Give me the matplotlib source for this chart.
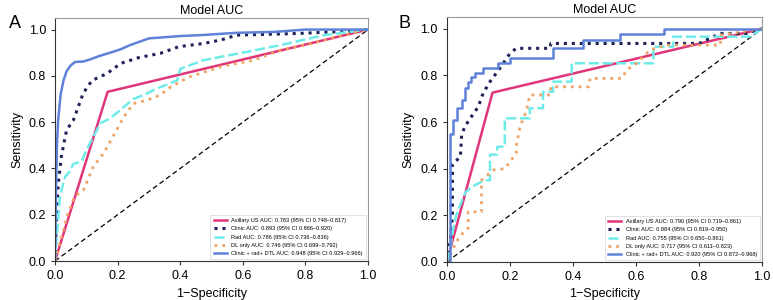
import numpy as np
import matplotlib
matplotlib.use('Agg')
import matplotlib.pyplot as plt

plt.rcParams['font.family'] = ['Liberation Sans', 'DejaVu Sans']

# ---- panel A (training) ----
a_us_x = [0, 0.168, 1.0]
a_us_y = [0, 0.731, 1.0]
a_clin_x = [0, 0.005, 0.01, 0.02, 0.03, 0.037, 0.059, 0.09, 0.118, 0.166, 0.21, 0.27, 0.336, 0.395,
            0.475, 0.53, 0.58, 0.775, 0.955, 1.0]
a_clin_y = [0, 0.2, 0.33, 0.45, 0.52, 0.566, 0.61, 0.725, 0.78, 0.81, 0.854, 0.88, 0.897, 0.926,
            0.94, 0.955, 0.976, 0.983, 0.994, 1.0]
a_rad_x = [0, 0.003, 0.007, 0.016, 0.032, 0.043, 0.059, 0.085, 0.10, 0.134, 0.144, 0.176, 0.208,
           0.25, 0.283, 0.326, 0.39, 0.40, 0.475, 0.614, 0.72, 0.86, 1.0]
a_rad_y = [0, 0.08, 0.134, 0.28, 0.364, 0.38, 0.42, 0.43, 0.48, 0.566, 0.595, 0.616, 0.652,
           0.70, 0.717, 0.746, 0.78, 0.83, 0.868, 0.904, 0.933, 0.976, 1.0]
a_dl_x = [0, 0.02, 0.04, 0.06, 0.08, 0.091, 0.123, 0.155, 0.19, 0.22, 0.25, 0.294, 0.336, 0.37,
          0.43, 0.53, 0.636, 0.72, 0.82, 0.92, 1.0]
a_dl_y = [0, 0.1, 0.2, 0.27, 0.3, 0.307, 0.41, 0.465, 0.55, 0.623, 0.68, 0.695, 0.717, 0.753,
          0.796, 0.84, 0.868, 0.911, 0.94, 0.976, 1.0]
a_dtl_x = [0, 0.003, 0.006, 0.01, 0.018, 0.027, 0.037, 0.05, 0.064, 0.09, 0.11, 0.14, 0.176,
           0.21, 0.24, 0.30, 0.40, 0.465, 0.58, 0.70, 0.80, 1.0]
a_dtl_y = [0, 0.3, 0.5, 0.61, 0.72, 0.78, 0.82, 0.845, 0.86, 0.862, 0.87, 0.885, 0.90,
           0.915, 0.933, 0.962, 0.972, 0.976, 0.986, 0.99, 1.0, 1.0]
a_labels = ['Axillary US AUC: 0.783 (95% CI 0.748\u20130.817)',
            'Clinic AUC: 0.893 (95% CI 0.866\u20130.920)',
            'Rad AUC: 0.786 (95% CI 0.736\u20130.836)',
            'DL only AUC: 0.746 (95% CI 0.699\u20130.792)',
            'Clinic + rad+ DTL AUC: 0.948 (95% CI 0.929\u20130.966)']

# ---- panel B (validation) ----
b_us_x = [0, 0.145, 1.0]
b_us_y = [0, 0.726, 1.0]
b_clin_x = [0, 0.012, 0.018, 0.018, 0.043, 0.047, 0.057, 0.078, 0.10, 0.115, 0.137, 0.168, 0.2,
            0.22, 0.327, 0.33, 0.80, 0.867, 0.95, 1.0]
b_clin_y = [0, 0.1, 0.2, 0.42, 0.45, 0.544, 0.58, 0.623, 0.666, 0.723, 0.773, 0.83, 0.894,
            0.916, 0.916, 0.937, 0.937, 0.98, 0.98, 1.0]
b_rad_x = [0, 0.01, 0.02, 0.03, 0.05, 0.06, 0.09, 0.12, 0.137, 0.137, 0.16, 0.16, 0.184, 0.184,
           0.263, 0.263, 0.305, 0.305, 0.337, 0.337, 0.396, 0.396, 0.655, 0.655, 0.718, 0.718,
           0.96, 1.0]
b_rad_y = [0, 0.05, 0.14, 0.2, 0.27, 0.3, 0.33, 0.35, 0.35, 0.46, 0.46, 0.494, 0.494, 0.616,
           0.616, 0.659, 0.659, 0.73, 0.73, 0.773, 0.773, 0.852, 0.852, 0.923, 0.923, 0.966,
           0.966, 1.0]
b_dl_x = [0, 0.015, 0.041, 0.068, 0.068, 0.11, 0.11, 0.147, 0.184, 0.22, 0.22, 0.232, 0.253,
          0.263, 0.327, 0.33, 0.45, 0.454, 0.555, 0.57, 0.60, 0.645, 0.70, 0.867, 0.87, 1.0]
b_dl_y = [0, 0.045, 0.11, 0.145, 0.215, 0.215, 0.35, 0.394, 0.40, 0.466, 0.494, 0.58, 0.65,
          0.716, 0.716, 0.751, 0.751, 0.787, 0.787, 0.823, 0.85, 0.91, 0.93, 0.93, 0.973, 1.0]
b_dtl_x = [0, 0.01, 0.01, 0.02, 0.02, 0.031, 0.031, 0.047, 0.047, 0.057, 0.057, 0.068, 0.068,
           0.078, 0.078, 0.089, 0.089, 0.115, 0.115, 0.163, 0.163, 0.2, 0.2, 0.337, 0.337,
           0.433, 0.433, 0.55, 0.55, 0.69, 0.69, 1.0]
b_dtl_y = [0, 0, 0.55, 0.55, 0.61, 0.61, 0.66, 0.66, 0.694, 0.694, 0.744, 0.744, 0.773, 0.773,
           0.794, 0.794, 0.809, 0.809, 0.83, 0.83, 0.852, 0.852, 0.873, 0.873, 0.916, 0.916,
           0.95, 0.95, 0.977, 0.977, 1.0, 1.0]
b_labels = ['Axillary US AUC: 0.790 (95% CI 0.719\u20130.861)',
            'Clinic AUC: 0.884 (95% CI 0.819\u20130.950)',
            'Rad AUC: 0.755 (95% CI 0.650\u20130.861)',
            'DL only AUC: 0.717 (95% CI 0.611\u20130.823)',
            'Clinic + rad+ DTL AUC: 0.920 (95% CI 0.872\u20130.968)']

c_us = '#e0357a'
c_clin = '#1c2157'
c_rad = '#6fecea'
c_dl = '#f0a262'
c_dtl = '#5e82d8'


def draw(ax, curves, labels, letter, lx):
    (usx, usy), (clx, cly), (rx, ry), (dx, dy), (tx, ty) = curves
    ax.plot([0, 1], [0, 1], color='black', lw=0.9, ls='--', dashes=(4, 2.5))
    ax.plot(usx, usy, color=c_us, lw=1.8, label=labels[0])
    ax.plot(clx, cly, color=c_clin, lw=2.2, ls=(0, (1, 1.6)), label=labels[1])
    ax.plot(rx, ry, color=c_rad, lw=1.8, ls=(0, (4, 1.5)), label=labels[2])
    ax.plot(dx, dy, color=c_dl, lw=2.0, ls=(0, (1, 1.8)), label=labels[3])
    ax.plot(tx, ty, color=c_dtl, lw=1.8, label=labels[4])
    ax.set_xlim(0, 1.0)
    ax.set_ylim(0, 1.05)
    ax.set_xticks([0, 0.2, 0.4, 0.6, 0.8, 1.0])
    ax.set_yticks([0, 0.2, 0.4, 0.6, 0.8, 1.0])
    ax.tick_params(labelsize=9, length=3, color='#333333')
    for s in ['top', 'right']:
        ax.spines[s].set_color('#999999')
    for s in ['left', 'bottom']:
        ax.spines[s].set_color('#333333')
    ax.set_title('Model AUC', fontsize=9, pad=3)
    ax.set_xlabel('1\u2212Specificity', fontsize=9)
    ax.set_ylabel('Sensitivity', fontsize=9)
    leg = ax.legend(loc='lower right', fontsize=4.1, frameon=True, fancybox=False,
                    handlelength=2.3, borderpad=0.6, labelspacing=0.55, borderaxespad=0.3)
    leg.get_frame().set_linewidth(0.5)
    leg.get_frame().set_edgecolor('#cccccc')
    ax.figure.text(lx, 0.905, letter, fontsize=13)


fig = plt.figure(figsize=(7.73, 3.0), dpi=100)
ax1 = fig.add_axes([0.0712, 0.13, 0.405, 0.81])
ax2 = fig.add_axes([0.578, 0.127, 0.408, 0.816])
draw(ax1, [(a_us_x, a_us_y), (a_clin_x, a_clin_y), (a_rad_x, a_rad_y), (a_dl_x, a_dl_y),
           (a_dtl_x, a_dtl_y)], a_labels, 'A', 0.012)
draw(ax2, [(b_us_x, b_us_y), (b_clin_x, b_clin_y), (b_rad_x, b_rad_y), (b_dl_x, b_dl_y),
           (b_dtl_x, b_dtl_y)], b_labels, 'B', 0.516)
fig.savefig('out.png', dpi=100)
